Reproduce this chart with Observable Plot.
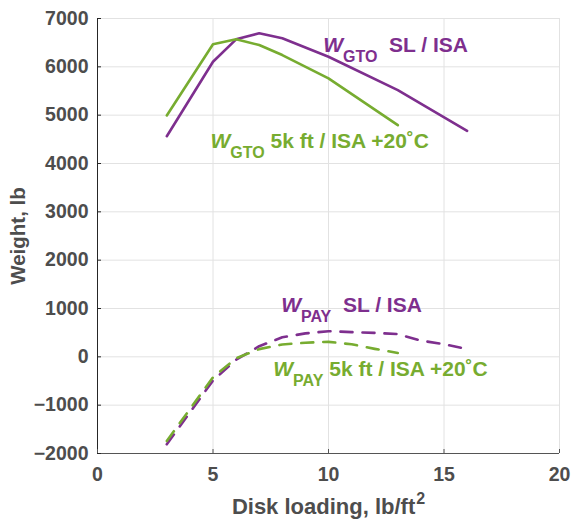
<!DOCTYPE html>
<html><head><meta charset="utf-8">
<script src="https://cdn.jsdelivr.net/npm/d3@7"></script>
<script src="https://cdn.jsdelivr.net/npm/@observablehq/plot@0.6"></script>
<style>
body{margin:0;background:#fff;}
#chart svg{font-family:"Liberation Sans",Arial,Helvetica,sans-serif;}
</style>
</head><body><div id="chart"></div>
<script>
// ---- data ----
const diskGTO_SL = [3, 5, 6, 7, 8, 10, 13, 16];
const wGTO_SL    = [4565, 6105, 6569, 6694, 6590, 6209, 5518, 4675];
const diskGTO_5k = [3, 5, 6, 7, 8, 10, 13];
const wGTO_5k    = [4994, 6466, 6569, 6451, 6244, 5761, 4793];
const diskPAY_SL = [3, 5, 6, 7, 8, 9, 10, 11, 12, 13, 14, 15, 16];
const wPAY_SL    = [-1810, -490, -60, 220, 405, 485, 530, 512, 495, 470, 335, 262, 160];
const diskPAY_5k = [3, 5, 6, 7, 8, 9, 10, 11, 12, 13];
const wPAY_5k    = [-1740, -425, -30, 160, 255, 292, 310, 260, 165, 80];

const xTicks = [0, 5, 10, 15, 20];
const yTicks = [-2000, -1000, 0, 1000, 2000, 3000, 4000, 5000, 6000, 7000];
const xLabel = "Disk loading, lb/ft";
const xLabelSup = "2";
const yLabel = "Weight, lb";

// annotations
const labelMain = ["W", "W", "W", "W"];
const labelSub  = ["GTO", "GTO", "PAY", "PAY"];
const labelRest = ["  SL / ISA", " 5k ft / ISA +20\u02DAC", "  SL / ISA", " 5k ft / ISA +20\u02DAC"];
const labelX    = [9.77, 4.89, 7.95, 7.61];
const labelY    = [6300, 4331, 922, -390];

const purple = "#7E2F8E";
const green  = "#77AC30";
const labelColor = [purple, green, purple, green];
const ink = "#4d4d4d";

const toRows = (xs, ys) => xs.map((x, i) => ({x, y: ys[i]}));

const chart = Plot.plot({
  width: 571,
  height: 519,
  marginLeft: 97,
  marginRight: 12,
  marginTop: 18,
  marginBottom: 66,
  x: {domain: [0, 20]},
  y: {domain: [-2000, 7000]},
  color: {type: "identity"},
  style: {fontFamily: "Liberation Sans, Arial, sans-serif", background: "#fff"},
  marks: [
    Plot.gridX(xTicks, {stroke: "#e2e2e2", strokeOpacity: 1}),
    Plot.gridY(yTicks, {stroke: "#e2e2e2", strokeOpacity: 1}),
    Plot.ruleX([0], {stroke: "#262626"}),
    Plot.ruleY([-2000], {stroke: "#555"}),
    Plot.axisX(xTicks, {tickSize: -4, text: null, label: null, stroke: "#555"}),
    Plot.axisY(yTicks, {tickSize: -4, text: null, label: null, stroke: "#262626"}),
    Plot.axisX(xTicks, {tickSize: 0, tickPadding: 14, fontSize: 19.5, fontWeight: "bold", fill: ink,
      tickFormat: d => String(d),
      label: xLabel + xLabelSup, labelAnchor: "center", labelOffset: 60, labelArrow: "none"}),
    Plot.axisY(yTicks, {tickSize: 0, tickPadding: 9, fontSize: 19.5, fontWeight: "bold", fill: ink,
      tickFormat: d => d < 0 ? "\u2212" + Math.abs(d) : String(d),
      label: yLabel, labelAnchor: "center", labelOffset: 87, labelArrow: "none"}),
    Plot.line(toRows(diskGTO_SL, wGTO_SL), {x: "x", y: "y", stroke: purple, strokeWidth: 2.6}),
    Plot.line(toRows(diskGTO_5k, wGTO_5k), {x: "x", y: "y", stroke: green, strokeWidth: 2.6}),
    Plot.line(toRows(diskPAY_SL, wPAY_SL), {x: "x", y: "y", stroke: purple, strokeWidth: 2.6, strokeDasharray: "12,10"}),
    Plot.line(toRows(diskPAY_5k, wPAY_5k), {x: "x", y: "y", stroke: green, strokeWidth: 2.6, strokeDasharray: "12,10"}),
    Plot.text(labelMain, {
      x: (d, i) => labelX[i], y: (d, i) => labelY[i],
      text: (d, i) => d + labelSub[i] + labelRest[i],
      fill: (d, i) => labelColor[i],
      textAnchor: "start", lineAnchor: "bottom",
      fontSize: 21, fontWeight: "bold", className: "annot"
    })
  ]
});

document.getElementById("chart").appendChild(chart);

// rich text: italic W, subscript, rest
const svg = d3.select(chart);
svg.selectAll("g.annot text").each(function(_, i) {
  const t = d3.select(this);
  t.text(null).attr("xml:space", "preserve");
  t.append("tspan").attr("font-style", "italic").text(labelMain[i]);
  t.append("tspan").attr("font-size", 16).attr("dy", 10).text(labelSub[i]);
  t.append("tspan").attr("dy", -10).text(labelRest[i]);
});
// axis-label superscript
svg.selectAll("text").filter(function() { return this.textContent === xLabel + xLabelSup; })
  .each(function() {
    const t = d3.select(this);
    t.selectAll("*").remove();
    t.text(null);
    t.append("tspan").text(xLabel);
    t.append("tspan").attr("font-size", 16).attr("dy", -10).attr("dx", 1).text(xLabelSup);
  })
  .attr("font-size", 22).attr("font-weight", "bold").attr("fill", ink);
svg.selectAll("text").filter(function() { return this.textContent === yLabel; })
  .attr("font-size", 20.5).attr("font-weight", "bold").attr("fill", ink);
</script>
</body></html>
